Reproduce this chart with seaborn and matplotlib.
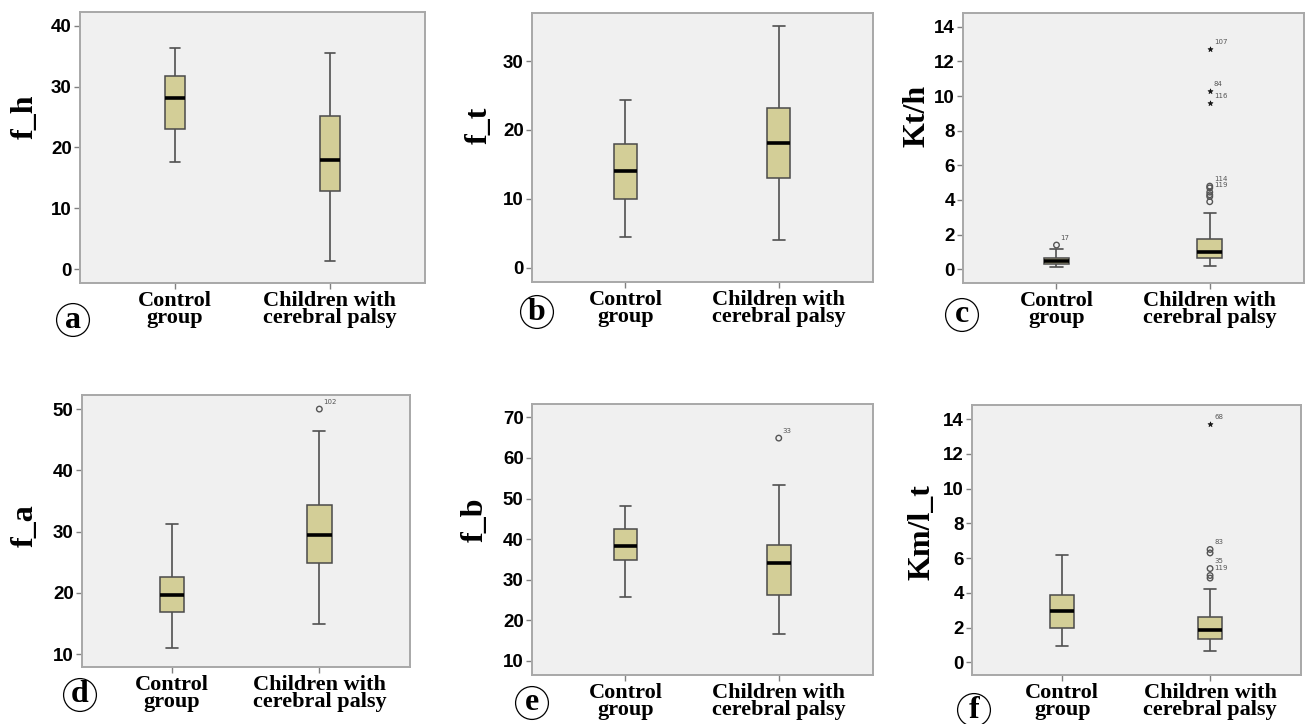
import numpy as np
import pandas as pd
import matplotlib
matplotlib.use("Agg")
import matplotlib.pyplot as plt
import seaborn as sns

# ---------------- data ----------------
groups = ["Control\ngroup", "Children with\ncerebral palsy"]

# five-number summaries: [lower whisker, Q1, median, Q3, upper whisker]
fh_control = [17.6, 23.0, 28.1, 31.7, 36.4]
fh_cp = [1.3, 12.9, 17.9, 25.2, 35.5]
ft_control = [4.5, 9.9, 14.0, 18.0, 24.3]
ft_cp = [4.0, 13.0, 18.1, 23.2, 35.1]
kth_control = [0.12, 0.31, 0.50, 0.67, 1.15]
kth_cp = [0.21, 0.63, 0.98, 1.73, 3.23]
fa_control = [11.0, 16.9, 19.7, 22.6, 31.3]
fa_cp = [15.0, 24.9, 29.4, 34.4, 46.5]
fb_control = [25.8, 34.8, 38.4, 42.5, 48.1]
fb_cp = [16.7, 26.3, 34.1, 38.6, 53.3]
kml_control = [0.96, 2.0, 2.95, 3.9, 6.2]
kml_cp = [0.67, 1.34, 1.86, 2.63, 4.2]

# outliers (open circles) and extremes (stars): group index, value, case label
kth_out_group = [0, 1, 1, 1, 1, 1, 1]
kth_out_value = [1.4, 4.8, 4.7, 4.45, 4.3, 4.2, 3.9]
kth_out_label = ["17", "114", "", "119", "", "", ""]
kth_ext_group = [1, 1, 1]
kth_ext_value = [12.7, 10.3, 9.6]
kth_ext_label = ["107", "84", "116"]

fa_out_group = [1]
fa_out_value = [50.0]
fa_out_label = ["102"]

fb_out_group = [1]
fb_out_value = [64.9]
fb_out_label = ["33"]

kml_out_group = [1, 1, 1, 1, 1]
kml_out_value = [6.5, 6.3, 5.4, 5.0, 4.85]
kml_out_label = ["83", "", "35", "119", ""]
kml_ext_group = [1]
kml_ext_value = [13.7]
kml_ext_label = ["68"]

# y-axis labels, ticks, limits
ylabels = ["f_h", "f_t", "Kt/h", "f_a", "f_b", "Km/l_t"]
yticks = [[0, 10, 20, 30, 40], [0, 10, 20, 30], list(range(0, 15, 2)),
          [10, 20, 30, 40, 50], [10, 20, 30, 40, 50, 60, 70], list(range(0, 15, 2))]
ylims = [(-2.3, 42.3), (-2.1, 37.0), (-0.79, 14.79),
         (7.9, 52.3), (6.55, 73.3), (-0.73, 14.82)]
letters = ["a", "b", "c", "d", "e", "f"]

# ---------------- layout / style ----------------
sns.set_style("white")
plt.rcParams["font.family"] = ["DejaVu Sans"]
plt.rcParams["text.color"] = "black"
plt.rcParams["axes.labelcolor"] = "black"
plt.rcParams["xtick.labelcolor"] = "black"
plt.rcParams["ytick.labelcolor"] = "black"
fig = plt.figure(figsize=(13.05, 7.24), dpi=100)

W, H = 1305, 724
# axes boxes in pixels: left, top, right, bottom
axes_px = [(80, 12, 425, 283), (532, 13, 873, 282), (963, 13, 1304, 283),
           (82, 395, 410, 667), (532, 404, 873, 675), (972, 405, 1301, 675)]
box_widths = [0.13, 0.153, 0.16, 0.165, 0.155, 0.165]
label_xy = [(-0.117, 0.614), (-0.113, 0.581), (-0.092, 0.617),
            (-0.13, 0.518), (-0.125, 0.572), (-0.108, 0.53)]
letter_px = [(73, 320), (537, 312), (962, 315), (80, 695), (532, 703), (974, 710)]

BOX_FC = "#D3CE97"
BG = "#F0F0F0"
EDGE = "#4A4A4A"

summaries = [(fh_control, fh_cp), (ft_control, ft_cp), (kth_control, kth_cp),
             (fa_control, fa_cp), (fb_control, fb_cp), (kml_control, kml_cp)]
outliers = [None, None, (kth_out_group, kth_out_value, kth_out_label),
            (fa_out_group, fa_out_value, fa_out_label),
            (fb_out_group, fb_out_value, fb_out_label),
            (kml_out_group, kml_out_value, kml_out_label)]
extremes = [None, None, (kth_ext_group, kth_ext_value, kth_ext_label),
            None, None, (kml_ext_group, kml_ext_value, kml_ext_label)]

for i in range(6):
    l, t, r, b = axes_px[i]
    ax = fig.add_axes([l / W, 1 - b / H, (r - l) / W, (b - t) / H])
    ax.set_facecolor(BG)
    ctrl, cp = summaries[i]
    df = pd.DataFrame({"group": [groups[0]] * len(ctrl) + [groups[1]] * len(cp),
                       "value": list(ctrl) + list(cp)})
    sns.boxplot(data=df, x="group", y="value", order=groups, ax=ax,
                whis=(0, 100), width=box_widths[i], color=BOX_FC, saturation=1,
                linecolor=EDGE, linewidth=1.1, showfliers=False,
                medianprops=dict(color="black", linewidth=2.6),
                whiskerprops=dict(color="#505050", linewidth=1.2),
                capprops=dict(color="#505050", linewidth=1.2))
    if outliers[i] is not None:
        g, v, lab = outliers[i]
        xs = [groups[k] for k in g]
        sns.scatterplot(x=xs, y=v, ax=ax, marker="o", s=16, facecolors="none",
                        edgecolor="#555555", linewidth=1.0, legend=False)
        for xx, yy, tt in zip(xs, v, lab):
            if tt:
                ax.annotate(tt, xy=(xx, yy), xytext=(3, 3), textcoords="offset points",
                            fontsize=5, color="#555555", ha="left", va="bottom")
    if extremes[i] is not None:
        g, v, lab = extremes[i]
        xs = [groups[k] for k in g]
        sns.scatterplot(x=xs, y=v, ax=ax, marker="*", s=14, color="#111111",
                        edgecolor="#111111", linewidth=0.5, legend=False)
        for xx, yy, tt in zip(xs, v, lab):
            ax.annotate(tt, xy=(xx, yy), xytext=(3, 3), textcoords="offset points",
                        fontsize=5, color="#555555", ha="left", va="bottom")

    ax.set_xlim(-0.61, 1.615)
    ax.set_ylim(*ylims[i])
    ax.set_yticks(yticks[i])
    ax.set_xlabel("")
    ax.set_ylabel(ylabels[i], fontsize=23, fontweight="bold",
                  family="Liberation Serif", color="black")
    ax.yaxis.set_label_coords(*label_xy[i])
    for s in ax.spines.values():
        s.set_visible(True)
        s.set_color("#A8A8A8")
        s.set_linewidth(1.4)
    ax.tick_params(axis="y", length=4, width=1, color="#808080", pad=2, left=True,
                   labelcolor="black")
    ax.tick_params(axis="x", length=4, width=1, color="#808080", pad=2, bottom=True,
                   labelcolor="black")
    for tl in ax.get_yticklabels():
        tl.set_fontsize(13.5)
        tl.set_fontweight("bold")
        tl.set_family("Liberation Sans")
        tl.set_color("black")
    ax.set_xticks([0, 1])
    ax.set_xticklabels(groups, fontsize=16, fontweight="bold",
                       family="Liberation Serif", linespacing=0.78, color="black")

    lx, ly = letter_px[i]
    fig.text(lx / W, 1 - ly / H, letters[i], ha="center", va="center",
             fontsize=23, fontweight="bold", family="Liberation Serif", color="black",
             bbox=dict(boxstyle="circle,pad=0.06", fc="white", ec="black", lw=0.9))

fig.savefig("out.png", dpi=100, facecolor="white")
